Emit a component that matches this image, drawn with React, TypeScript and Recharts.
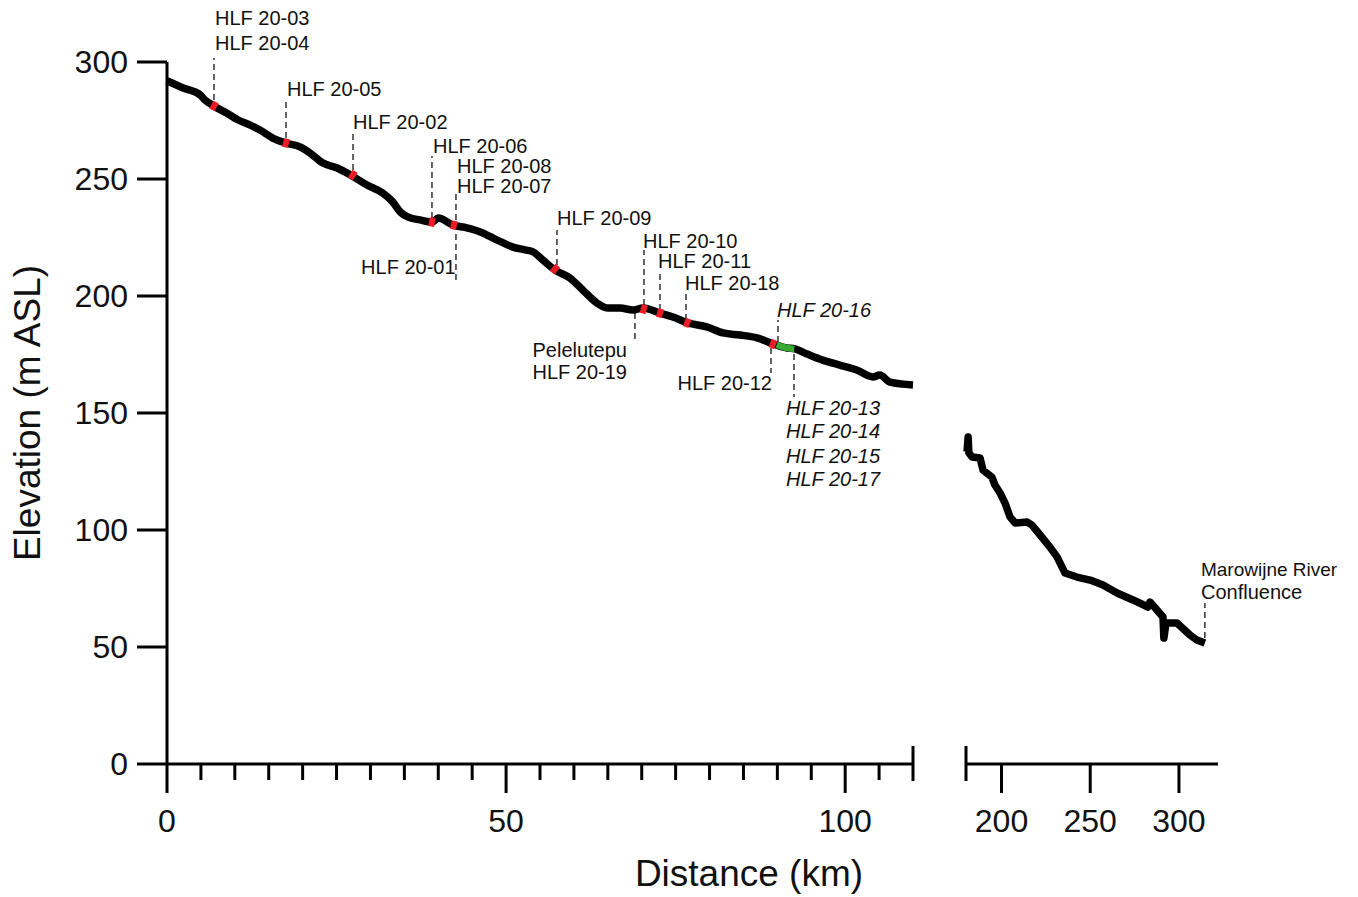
import { ComposedChart, Label, Line, ReferenceLine, Scatter, XAxis, YAxis } from "recharts";

// distance (km) along the river vs elevation (m ASL)
const UPPER_PROFILE = [
  { km: 0, elev: 292.0 }, { km: 2.4, elev: 288.9 }, { km: 4.9, elev: 285.9 }, { km: 5.6, elev: 283.8 },
  { km: 6.9, elev: 281.2 }, { km: 8.8, elev: 278.2 }, { km: 10.5, elev: 275.2 }, { km: 12.2, elev: 273.1 },
  { km: 13.7, elev: 270.9 }, { km: 15.6, elev: 267.5 }, { km: 17.5, elev: 265.4 }, { km: 19.6, elev: 263.7 },
  { km: 21.1, elev: 261.1 }, { km: 23.0, elev: 256.8 }, { km: 25.1, elev: 254.7 }, { km: 27.3, elev: 251.3 },
  { km: 29.5, elev: 247.4 }, { km: 31.8, elev: 244.0 }, { km: 33.3, elev: 240.2 }, { km: 34.4, elev: 235.9 },
  { km: 35.5, elev: 233.8 }, { km: 37.3, elev: 232.5 }, { km: 39.1, elev: 231.6 }, { km: 40.0, elev: 233.3 },
  { km: 42.2, elev: 230.3 }, { km: 44.2, elev: 229.1 }, { km: 46.2, elev: 227.4 }, { km: 48.7, elev: 223.9 },
  { km: 51.0, elev: 220.9 }, { km: 52.8, elev: 219.7 }, { km: 54.0, elev: 218.8 }, { km: 55.4, elev: 215.4 },
  { km: 57.2, elev: 211.1 }, { km: 59.4, elev: 207.7 }, { km: 61.3, elev: 202.6 }, { km: 63.4, elev: 197.0 },
  { km: 64.9, elev: 194.9 }, { km: 66.8, elev: 194.9 }, { km: 68.7, elev: 194.0 }, { km: 70.2, elev: 194.9 },
  { km: 72.7, elev: 192.7 }, { km: 74.6, elev: 191.0 }, { km: 76.8, elev: 188.5 }, { km: 79.6, elev: 186.8 },
  { km: 82.0, elev: 184.2 }, { km: 84.5, elev: 183.3 }, { km: 87.0, elev: 182.1 }, { km: 89.4, elev: 179.5 },
  { km: 91.4, elev: 177.8 }, { km: 92.6, elev: 177.4 }, { km: 94.4, elev: 175.2 }, { km: 96.7, elev: 172.6 },
  { km: 99.2, elev: 170.5 }, { km: 101.7, elev: 168.4 }, { km: 104.1, elev: 165.4 }, { km: 105.1, elev: 166.2 },
  { km: 106.6, elev: 163.2 }, { km: 110.0, elev: 162.0 },
];

const LOWER_PROFILE = [
  { km: 180.6, elev: 133.5 }, { km: 181.2, elev: 139.7 }, { km: 181.6, elev: 133.0 }, { km: 183.4, elev: 131.2 },
  { km: 187.9, elev: 130.8 }, { km: 189.6, elev: 125.6 }, { km: 194.6, elev: 122.6 }, { km: 196.3, elev: 119.2 },
  { km: 199.2, elev: 115.8 }, { km: 202.0, elev: 111.5 }, { km: 204.8, elev: 105.6 }, { km: 207.6, elev: 103.0 },
  { km: 214.4, elev: 103.4 }, { km: 217.2, elev: 102.1 }, { km: 221.7, elev: 97.9 }, { km: 227.3, elev: 92.7 },
  { km: 231.3, elev: 88.5 }, { km: 235.8, elev: 81.6 }, { km: 242.5, elev: 79.9 }, { km: 249.9, elev: 78.6 },
  { km: 257.2, elev: 76.5 }, { km: 265.1, elev: 73.1 }, { km: 274.1, elev: 70.1 }, { km: 282.5, elev: 67.1 },
  { km: 283.7, elev: 69.2 }, { km: 287.6, elev: 65.8 }, { km: 291.0, elev: 62.8 }, { km: 291.5, elev: 53.8 },
  { km: 292.7, elev: 60.3 }, { km: 298.9, elev: 60.3 }, { km: 306.2, elev: 55.1 }, { km: 310.1, elev: 53.0 },
  { km: 314.6, elev: 51.7 },
];

// sample sites (red) and the green reach
const SAMPLE_MARKS = [
  { id: "HLF 20-03", km: 6.93, elev: 281.2 },
  { id: "HLF 20-05", km: 17.55, elev: 265.4 },
  { id: "HLF 20-02", km: 27.4, elev: 251.7 },
  { id: "HLF 20-06", km: 39.07, elev: 231.6 },
  { id: "HLF 20-07", km: 42.3, elev: 230.3 },
  { id: "HLF 20-09", km: 57.2, elev: 211.5 },
  { id: "HLF 20-10", km: 70.3, elev: 194.4 },
  { id: "HLF 20-11", km: 72.7, elev: 192.7 },
  { id: "HLF 20-18", km: 76.7, elev: 188.5 },
  { id: "HLF 20-12", km: 89.35, elev: 179.5 },
];

const GREEN_REACH = [
  { km: 89.9, elev: 179.1 },
  { km: 91.4, elev: 177.8 },
  { km: 92.5, elev: 177.4 },
];

// dashed leader lines: from / to elevations
const UPPER_LEADERS = [
  { km: 6.93, from: 283.8, to: 301.7 },
  { km: 17.55, from: 267.5, to: 283.8 },
  { km: 27.43, from: 253.8, to: 269.7 },
  { km: 39.07, from: 233.3, to: 259.8 },
  { km: 42.61, from: 206.8, to: 244.4 },
  { km: 57.5, from: 213.2, to: 228.2 },
  { km: 70.33, from: 196.2, to: 219.7 },
  { km: 69.0, from: 192.7, to: 179.9 },
  { km: 72.69, from: 194.0, to: 210.3 },
  { km: 76.53, from: 189.7, to: 201.7 },
  { km: 90.09, from: 180.3, to: 189.7 },
  { km: 89.06, from: 177.8, to: 167.1 },
  { km: 92.45, from: 175.2, to: 156.8 },
];

const LOWER_LEADERS = [{ km: 314.6, from: 53.8, to: 68.8 }];

// label text, anchored at km / baseline elevation
const UPPER_LABELS = [
  { text: "HLF 20-03", km: 7.08, elev: 315.8 },
  { text: "HLF 20-04", km: 7.08, elev: 305.1 },
  { text: "HLF 20-05", km: 17.69, elev: 285.5 },
  { text: "HLF 20-02", km: 27.43, elev: 271.4 },
  { text: "HLF 20-06", km: 39.22, elev: 261.1 },
  { text: "HLF 20-08", km: 42.76, elev: 252.6 },
  { text: "HLF 20-07", km: 42.76, elev: 244.0 },
  { text: "HLF 20-01", km: 42.55, elev: 209.4 },
  { text: "HLF 20-09", km: 57.5, elev: 230.3 },
  { text: "HLF 20-10", km: 70.18, elev: 220.5 },
  { text: "HLF 20-11", km: 72.4, elev: 212.0 },
  { text: "HLF 20-18", km: 76.38, elev: 202.6 },
  { text: "Pelelutepu", km: 67.83, elev: 173.9 },
  { text: "HLF 20-19", km: 67.83, elev: 164.5 },
  { text: "HLF 20-16", km: 89.94, elev: 191.0 },
  { text: "HLF 20-12", km: 89.21, elev: 159.8 },
  { text: "HLF 20-13", km: 91.27, elev: 149.1 },
  { text: "HLF 20-14", km: 91.27, elev: 139.3 },
  { text: "HLF 20-15", km: 91.27, elev: 128.6 },
  { text: "HLF 20-17", km: 91.27, elev: 118.8 },
];

const LOWER_LABELS = [
  { text: "Marowijne River", km: 312.4, elev: 80.3 },
  { text: "Confluence", km: 312.4, elev: 70.5 },
];

const END_ANCHORED = new Set(["HLF 20-01", "Pelelutepu", "HLF 20-19", "HLF 20-12"]);
const ITALIC = new Set(["HLF 20-16", "HLF 20-13", "HLF 20-14", "HLF 20-15", "HLF 20-17"]);

const UPPER_TICKS = [0, 5, 10, 15, 20, 25, 30, 35, 40, 45, 50, 55, 60, 65, 70, 75, 80, 85, 90, 95, 100, 105, 110];
const UPPER_LABELED = [0, 50, 100];
const LOWER_TICKS = [180, 200, 250, 300];
const LOWER_LABELED = [200, 250, 300];
const ELEV_TICKS = [0, 50, 100, 150, 200, 250, 300];

const UPPER_DOMAIN = [0, 110];
const LOWER_DOMAIN = [180, 322];

// layout
const W = 1358;
const H = 897;
const AXIS_Y = 764;
const TOP_300 = 62;
const PLOT_LEFT = 167;
const UPPER_END = 913;
const LOWER_START = 966;
const LOWER_END = 1218;
const PX_PER_M = (AXIS_Y - TOP_300) / 300;
const Y_TOP = AXIS_Y / PX_PER_M;
const PX_PER_KM = (UPPER_END - PLOT_LEFT) / (UPPER_DOMAIN[1] - UPPER_DOMAIN[0]);
const LEFT_W = 960;
const RIGHT_X = 930;
const FONT = "'Liberation Sans', Arial, Helvetica, sans-serif";
const INK = "#111";
const PROFILE_WIDTH = 7.5;

function localAngle(km: number): number {
  for (let i = 1; i < UPPER_PROFILE.length; i++) {
    const a = UPPER_PROFILE[i - 1];
    const b = UPPER_PROFILE[i];
    if (km <= b.km) {
      const dx = (b.km - a.km) * PX_PER_KM;
      const dy = -(b.elev - a.elev) * PX_PER_M;
      return (Math.atan2(dy, dx) * 180) / Math.PI;
    }
  }
  return 0;
}

function makeTick(breakAt: number, labeled: number[]) {
  return function AxisTick(props: any) {
    const { x, y, payload } = props;
    const v = payload.value as number;
    if (v === breakAt) {
      return <line x1={x} x2={x} y1={y - 18} y2={y + 17} stroke="#000" strokeWidth={3} />;
    }
    const major = labeled.includes(v);
    return (
      <g>
        <line x1={x} x2={x} y1={y} y2={y + (major ? 29 : 16)} stroke="#000" strokeWidth={3} />
        {major && (
          <text x={x} y={y + 68} textAnchor="middle" fontSize={32} fill={INK}>
            {v}
          </text>
        )}
      </g>
    );
  };
}

const UpperTick = makeTick(UPPER_DOMAIN[1], UPPER_LABELED);
const LowerTick = makeTick(LOWER_DOMAIN[0], LOWER_LABELED);

function SampleMark(props: any) {
  const { cx, cy } = props;
  const d = props.payload ?? props;
  const angle = localAngle(d.km);
  return (
    <rect
      x={cx - 3}
      y={cy - 4.4}
      width={6}
      height={8.8}
      fill="#ec1c24"
      transform={`rotate(${angle} ${cx} ${cy})`}
    />
  );
}

function LabelText(props: any) {
  const { cx, cy } = props;
  const d = props.payload ?? props;
  return (
    <text
      x={cx}
      y={cy}
      textAnchor={END_ANCHORED.has(d.text) ? "end" : "start"}
      fontSize={d.text.length > 10 ? 19 : 20}
      fontStyle={ITALIC.has(d.text) ? "italic" : "normal"}
      fill={INK}
    >
      {d.text}
    </text>
  );
}

const ElevationTitle = () => (
  <text
    x={40}
    y={(AXIS_Y + TOP_300) / 2}
    transform={`rotate(-90 40 ${(AXIS_Y + TOP_300) / 2})`}
    textAnchor="middle"
    fontSize={37}
    fill={INK}
  >
    Elevation (m ASL)
  </text>
);

const DistanceTitle = () => (
  <text x={749} y={886} textAnchor="middle" fontSize={37} fill={INK}>
    Distance (km)
  </text>
);

export default function App() {
  return (
    <div style={{ position: "absolute", left: 0, top: 0, width: W, height: H, background: "#fff", fontFamily: FONT }}>
      <div style={{ position: "absolute", left: 0, top: 0 }}>
        <ComposedChart width={LEFT_W} height={H} margin={{ top: 0, right: LEFT_W - UPPER_END, bottom: 0, left: 0 }}>
          <XAxis
            type="number"
            dataKey="km"
            domain={UPPER_DOMAIN}
            ticks={UPPER_TICKS}
            interval={0}
            height={H - AXIS_Y}
            tickLine={false}
            tickSize={0}
            tickMargin={0}
            axisLine={{ stroke: "#000", strokeWidth: 3 }}
            tick={UpperTick}
          >
            <Label value="Distance (km)" content={DistanceTitle} />
          </XAxis>
          <YAxis
            type="number"
            dataKey="elev"
            domain={[0, Y_TOP]}
            ticks={ELEV_TICKS}
            interval={0}
            width={PLOT_LEFT}
            axisLine={false}
            tickSize={30}
            tickMargin={9}
            tickLine={{ stroke: "#000", strokeWidth: 3 }}
            tick={{ fill: INK, fontSize: 32 }}
          >
            <Label value="Elevation (m ASL)" content={ElevationTitle} />
          </YAxis>
          <ReferenceLine
            segment={[{ x: 0, y: 0 }, { x: 0, y: 300 }]}
            stroke="#000"
            strokeWidth={3}
          />
          {UPPER_LEADERS.map((l, i) => (
            <ReferenceLine
              key={`ul-${i}`}
              segment={[{ x: l.km, y: l.from }, { x: l.km, y: l.to }]}
              stroke="#222"
              strokeWidth={1.4}
              strokeDasharray="6 4"
            />
          ))}
          <Line
            data={UPPER_PROFILE}
            dataKey="elev"
            type="monotone"
            stroke="#000"
            strokeWidth={PROFILE_WIDTH}
            strokeLinejoin="round"
            dot={false}
            activeDot={false}
            isAnimationActive={false}
          />
          <Line
            data={GREEN_REACH}
            dataKey="elev"
            type="monotone"
            stroke="#3aaa35"
            strokeWidth={6.5}
            dot={false}
            activeDot={false}
            isAnimationActive={false}
          />
          <Scatter data={SAMPLE_MARKS} dataKey="elev" shape={SampleMark} isAnimationActive={false} />
          <Scatter data={UPPER_LABELS} dataKey="elev" shape={LabelText} isAnimationActive={false} />
        </ComposedChart>
      </div>
      <div style={{ position: "absolute", left: RIGHT_X, top: 0 }}>
        <ComposedChart
          width={W - RIGHT_X}
          height={H}
          margin={{ top: 0, right: W - LOWER_END, bottom: 0, left: LOWER_START - RIGHT_X }}
        >
          <XAxis
            type="number"
            dataKey="km"
            domain={LOWER_DOMAIN}
            ticks={LOWER_TICKS}
            interval={0}
            height={H - AXIS_Y}
            tickLine={false}
            tickSize={0}
            tickMargin={0}
            axisLine={{ stroke: "#000", strokeWidth: 3 }}
            tick={LowerTick}
          />
          <YAxis type="number" dataKey="elev" domain={[0, Y_TOP]} hide />
          {LOWER_LEADERS.map((l, i) => (
            <ReferenceLine
              key={`ll-${i}`}
              segment={[{ x: l.km, y: l.from }, { x: l.km, y: l.to }]}
              stroke="#222"
              strokeWidth={1.4}
              strokeDasharray="6 4"
            />
          ))}
          <Line
            data={LOWER_PROFILE}
            dataKey="elev"
            type="linear"
            stroke="#000"
            strokeWidth={PROFILE_WIDTH}
            strokeLinejoin="round"
            dot={false}
            activeDot={false}
            isAnimationActive={false}
          />
          <Scatter data={LOWER_LABELS} dataKey="elev" shape={LabelText} isAnimationActive={false} />
        </ComposedChart>
      </div>
    </div>
  );
}
